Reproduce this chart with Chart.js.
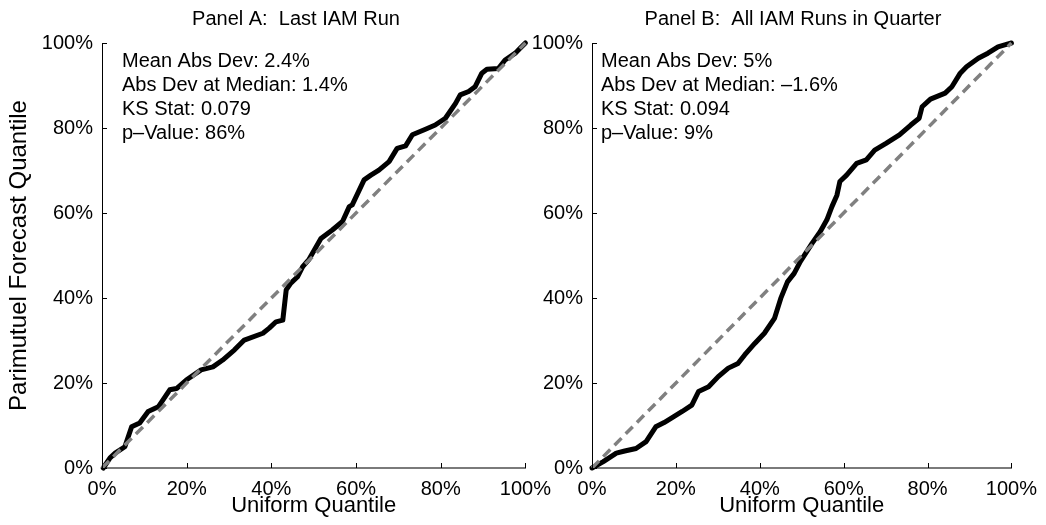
<!DOCTYPE html>
<html><head><meta charset="utf-8">
<script src="https://cdn.jsdelivr.net/npm/chart.js@4.4.0/dist/chart.umd.min.js"></script>
<style>
html,body{margin:0;padding:0;background:#fff;width:1046px;height:525px;overflow:hidden;}
#wrapA{position:absolute;left:0;top:0;width:560px;height:525px;}
#wrapB{position:absolute;left:530px;top:0;width:516px;height:525px;}
</style></head><body>
<div id="wrapA"><canvas id="cA"></canvas></div>
<div id="wrapB"><canvas id="cB"></canvas></div>
<script>
const FONT = '"Liberation Sans", Arial, Helvetica, sans-serif';
const tickValues = [0, 20, 40, 60, 80, 100];
const panelTitles = ['Panel A:  Last IAM Run', 'Panel B:  All IAM Runs in Quarter'];
const statsA = ['Mean Abs Dev: 2.4%', 'Abs Dev at Median: 1.4%', 'KS Stat: 0.079', 'p\u2013Value: 86%'];
const statsB = ['Mean Abs Dev: 5%', 'Abs Dev at Median: \u20131.6%', 'KS Stat: 0.094', 'p\u2013Value: 9%'];
const diagX = [0, 100];
const diagY = [0, 100];

const uniformA = [0.3,1.9,3.1,5.4,7.0,8.9,10.9,13.3,16.0,17.6,19.9,23.4,26.2,28.5,31.3,33.6,38.0,39.5,41.1,42.7,43.5,44.6,46.2,47.4,48.9,51.7,54.4,56.8,58.4,59.1,61.9,63.5,65.4,67.8,69.7,71.7,73.3,76.4,78.7,81.1,83.5,84.6,86.6,88.1,89.7,90.9,93.6,95.2,97.6,98.8,100];
const quantA   = [0.0,2.4,3.5,5.0,9.7,10.6,13.3,14.4,18.4,18.7,20.7,23.1,23.8,25.4,27.8,30.1,31.7,32.9,34.4,34.8,41.9,43.5,45.0,47.4,49.1,54.0,56.0,58.0,61.5,61.9,67.8,68.9,70.1,72.1,75.2,75.8,78.4,79.7,80.7,82.3,85.8,87.8,88.6,89.7,92.9,93.8,94.0,96.0,97.6,98.8,100];

const uniformB = [0,2.7,5.8,7.8,10.5,12.9,15.2,17.2,19.5,21.5,23.8,25.4,27.8,30.1,32.5,34.8,36.4,38.8,41.1,43.5,45.0,46.6,48.2,49.7,52.5,54.4,56.0,57.2,58.4,59.1,60.7,63.1,65.4,67.4,70.1,73.3,76.0,78.0,78.7,80.7,84.2,85.8,87.8,89.3,92.1,94.4,96.8,99.2,100];
const quantB   = [0,1.5,3.5,4.0,4.6,6.2,9.7,10.7,12.1,13.3,14.8,18.0,19.1,21.5,23.5,24.6,26.6,29.3,31.7,35.2,39.9,43.8,45.8,48.6,52.9,55.6,58.4,61.5,64.2,67.4,68.9,71.7,72.5,74.8,76.4,78.4,80.7,82.3,85.0,86.8,88.2,89.7,92.9,94.4,96.4,97.6,99.1,99.8,100];

function pts(xs, ys) { return xs.map((x, i) => ({x: x, y: ys[i]})); }

const decor = {
  id: 'decor',
  afterDraw(chart, args, o) {
    const ctx = chart.ctx, a = chart.chartArea;
    const xs = chart.scales.x, ys = chart.scales.y;
    ctx.save();
    ctx.strokeStyle = '#000'; ctx.lineWidth = 1;
    tickValues.forEach(v => {
      const px = Math.round(xs.getPixelForValue(v)) + 0.5;
      ctx.beginPath(); ctx.moveTo(px, a.bottom); ctx.lineTo(px, a.bottom - 5); ctx.stroke();
      const py = Math.round(ys.getPixelForValue(v)) + 0.5;
      ctx.beginPath(); ctx.moveTo(a.left, py); ctx.lineTo(a.left + 5, py); ctx.stroke();
    });
    ctx.fillStyle = '#000';
    ctx.font = '20px ' + FONT;
    ctx.textAlign = 'center'; ctx.textBaseline = 'middle';
    ctx.fillText(o.title, o.titleX, 19);
    ctx.font = '20px ' + FONT;
    ctx.textAlign = 'left'; ctx.textBaseline = 'alphabetic';
    o.stats.forEach((s, i) => ctx.fillText(s, a.left + o.statsDx, 67 + 24 * i));
    ctx.restore();
  }
};

function makePanel(id, xs, ys, title, titleX, stats, statsDx, yWidth, padRight, showYTitle) {
  return new Chart(document.getElementById(id), {
    type: 'scatter',
    data: {
      datasets: [
        { data: pts(diagX, diagY), showLine: true, borderColor: '#808080', borderWidth: 3.5,
          borderDash: [10, 6], pointRadius: 0, clip: false },
        { data: pts(xs, ys), showLine: true, borderColor: '#000', borderWidth: 5,
          pointRadius: 0, tension: 0, borderJoinStyle: 'round', borderCapStyle: 'round', clip: false }
      ]
    },
    options: {
      responsive: true, maintainAspectRatio: false, animation: false,
      layout: { padding: { top: 43, right: padRight, left: 0, bottom: 0 } },
      plugins: { legend: { display: false }, tooltip: { enabled: false },
        decor: { title: title, titleX: titleX, stats: stats, statsDx: statsDx } },
      scales: {
        x: { type: 'linear', min: 0, max: 100,
          grid: { display: false, drawTicks: false },
          border: { display: true, color: '#7a7a7a', width: 2 },
          ticks: { stepSize: 20, callback: v => v + '%', color: '#000', padding: 9,
            font: { size: 20, family: FONT }, maxRotation: 0, autoSkip: false },
          title: { display: true, text: 'Uniform Quantile', color: '#000',
            font: { size: 22, family: FONT }, padding: { top: 0, bottom: 6 } },
          afterFit(s) { s.height = 57; } },
        y: { type: 'linear', min: 0, max: 100,
          grid: { display: false, drawTicks: false },
          border: { display: true, color: '#000', width: 1 },
          ticks: { stepSize: 20, callback: v => v + '%', color: '#000', padding: 9,
            font: { size: 20, family: FONT } },
          title: { display: showYTitle, text: 'Parimutuel Forecast Quantile', color: '#000',
            font: { size: 24, family: FONT }, padding: { top: 5, bottom: 0 } },
          afterFit(s) { s.width = yWidth; } }
      }
    },
    plugins: [decor]
  });
}

makePanel('cA', uniformA, quantA, panelTitles[0], 296, statsA, 20, 102, 33, true);
makePanel('cB', uniformB, quantB, panelTitles[1], 793 - 530, statsB, 9, 62, 29, false);
</script>
</body></html>
